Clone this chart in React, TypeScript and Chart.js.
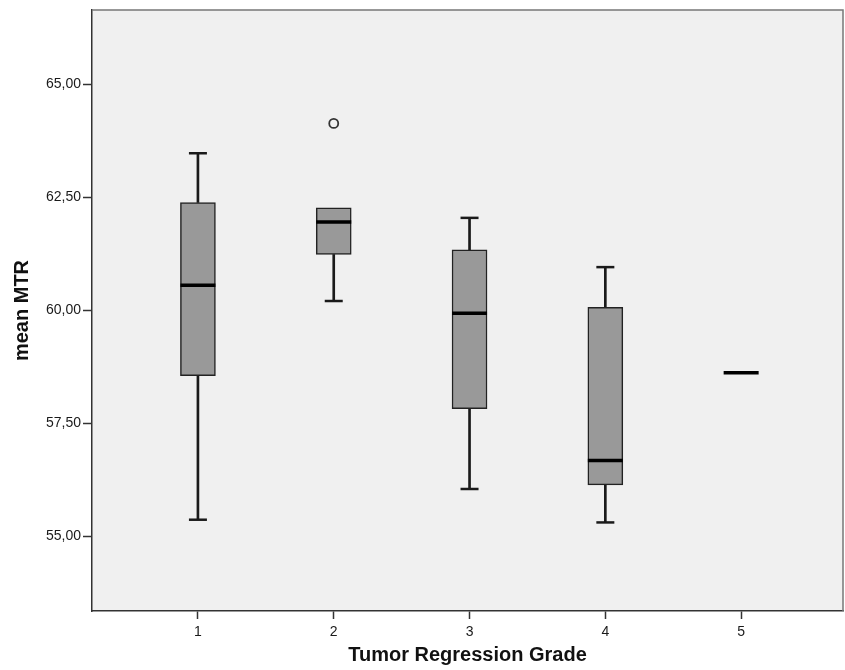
import React, { useEffect, useRef } from "react";
import { Chart, registerables } from "chart.js";

Chart.register(...registerables);

const categories = [1, 2, 3, 4, 5];
const whiskerLow = [55.37, 60.21, 56.05, 55.31, 58.62];
const q1 = [58.56, 61.24, 57.83, 56.14, 58.62];
const median = [60.56, 61.96, 59.94, 56.68, 58.62];
const q3 = [62.39, 62.27, 61.34, 60.07, 58.62];
const whiskerHigh = [63.48, 62.27, 62.05, 60.96, 58.62];
const outlierGrades = [2];
const outlierValues = [64.14];
const yTicks = [55, 57.5, 60, 62.5, 65];

const plotBg = {
  id: "plotBg",
  beforeDraw(chart: any) {
    const { ctx, chartArea: a } = chart;
    ctx.save();
    ctx.fillStyle = "#f0f0f0";
    ctx.fillRect(a.left, a.top, a.right - a.left, a.bottom - a.top);
    ctx.restore();
  },
  afterDraw(chart: any) {
    const { ctx, chartArea: a } = chart;
    ctx.save();
    ctx.lineWidth = 1.5;
    ctx.strokeStyle = "#777";
    ctx.beginPath();
    ctx.moveTo(a.left, a.top);
    ctx.lineTo(a.right, a.top);
    ctx.lineTo(a.right, a.bottom);
    ctx.stroke();
    ctx.restore();
  },
};

export default function App() {
  const ref = useRef<HTMLCanvasElement>(null);
  useEffect(() => {
    if (!ref.current) return;
    const hasLow = categories.map((_, i) => whiskerLow[i] < q1[i]);
    const hasHigh = categories.map((_, i) => whiskerHigh[i] > q3[i]);
    const chart = new Chart(ref.current, {
      type: "bar",
      data: {
        datasets: [
          {
            type: "bar",
            data: categories
              .map((c, i) => ({ x: c, y: [whiskerLow[i], q1[i]] }))
              .filter((_, i) => hasLow[i]) as any,
            backgroundColor: "#1a1a1a",
            barThickness: 2,
            grouped: false,
            order: 5,
          } as any,
          {
            type: "bar",
            data: categories
              .map((c, i) => ({ x: c, y: [q3[i], whiskerHigh[i]] }))
              .filter((_, i) => hasHigh[i]) as any,
            backgroundColor: "#1a1a1a",
            barThickness: 2,
            grouped: false,
            order: 5,
          } as any,
          {
            type: "bar",
            data: categories
              .map((c, i) => ({ x: c, y: [q1[i], q3[i]] }))
              .filter((_, i) => q3[i] > q1[i]) as any,
            backgroundColor: "#999999",
            borderColor: "#222",
            borderWidth: 1.5,
            borderSkipped: false,
            barThickness: 35,
            grouped: false,
            order: 4,
          } as any,
          {
            type: "scatter",
            data: categories
              .map((c, i) => ({ x: c, y: whiskerLow[i] }))
              .filter((_, i) => hasLow[i]),
            pointStyle: "line",
            pointRadius: 9,
            borderColor: "#1a1a1a",
            borderWidth: 2.5,
            order: 3,
          } as any,
          {
            type: "scatter",
            data: categories
              .map((c, i) => ({ x: c, y: whiskerHigh[i] }))
              .filter((_, i) => hasHigh[i]),
            pointStyle: "line",
            pointRadius: 9,
            borderColor: "#1a1a1a",
            borderWidth: 2.5,
            order: 3,
          } as any,
          {
            type: "scatter",
            data: categories.map((c, i) => ({ x: c, y: median[i] })),
            pointStyle: "line",
            pointRadius: 17.5,
            borderColor: "#000",
            borderWidth: 3.5,
            order: 2,
          } as any,
          {
            type: "scatter",
            data: outlierGrades.map((g, i) => ({ x: g, y: outlierValues[i] })),
            pointStyle: "circle",
            pointRadius: 4.5,
            backgroundColor: "#f0f0f0",
            borderColor: "#333",
            borderWidth: 1.8,
            order: 1,
          } as any,
        ],
      },
      options: {
        animation: false,
        responsive: false,
        events: [],
        layout: { autoPadding: false, padding: { top: 10, right: 2, left: 0, bottom: 0 } },
        plugins: { legend: { display: false }, tooltip: { enabled: false } },
        scales: {
          x: {
            type: "linear",
            min: 0.22,
            max: 5.75,
            offset: false,
            afterBuildTicks: (s: any) => {
              s.ticks = categories.map((v) => ({ value: v }));
            },
            afterFit: (s: any) => {
              s.height = 59;
              s.paddingLeft = 0;
              s.paddingRight = 0;
            },
            grid: { offset: false, drawOnChartArea: false, drawTicks: true, tickLength: 8, tickColor: "#333", tickWidth: 1.5 },
            border: { display: true, color: "#333", width: 1.5 },
            ticks: {
              color: "#1a1a1a",
              autoSkip: false,
              maxRotation: 0,
              font: { family: "Liberation Sans, Arial, sans-serif", size: 14 },
              padding: 5,
              callback: (v: any) => String(v),
            },
            title: {
              display: true,
              text: "Tumor Regression Grade",
              color: "#111",
              font: { family: "Liberation Sans, Arial, sans-serif", size: 20, weight: "bold" },
              padding: { top: 0, bottom: 3 },
            },
          },
          y: {
            type: "linear",
            min: 53.35,
            max: 66.65,
            afterBuildTicks: (s: any) => {
              s.ticks = yTicks.map((v) => ({ value: v }));
            },
            afterFit: (s: any) => {
              s.width = 92;
              s.paddingTop = 0;
              s.paddingBottom = 0;
            },
            grid: { drawOnChartArea: false, drawTicks: true, tickLength: 9, tickColor: "#333", tickWidth: 1.5 },
            border: { display: true, color: "#333", width: 1.5 },
            ticks: {
              color: "#1a1a1a",
              autoSkip: false,
              font: { family: "Liberation Sans, Arial, sans-serif", size: 14 },
              padding: 2,
              callback: (v: any) => Number(v).toFixed(2).replace(".", ","),
            },
            title: {
              display: true,
              text: "mean MTR",
              color: "#111",
              font: { family: "Liberation Sans, Arial, sans-serif", size: 20, weight: "bold" },
              padding: { top: 10, bottom: 0 },
            },
          },
        },
      },
      plugins: [plotBg],
    });
    return () => chart.destroy();
  }, []);
  return (
    <div style={{ position: "fixed", left: 0, top: 0, width: 845, height: 670, background: "#fff" }}>
      <canvas ref={ref} width={845} height={670} style={{ display: "block" }} />
    </div>
  );
}
